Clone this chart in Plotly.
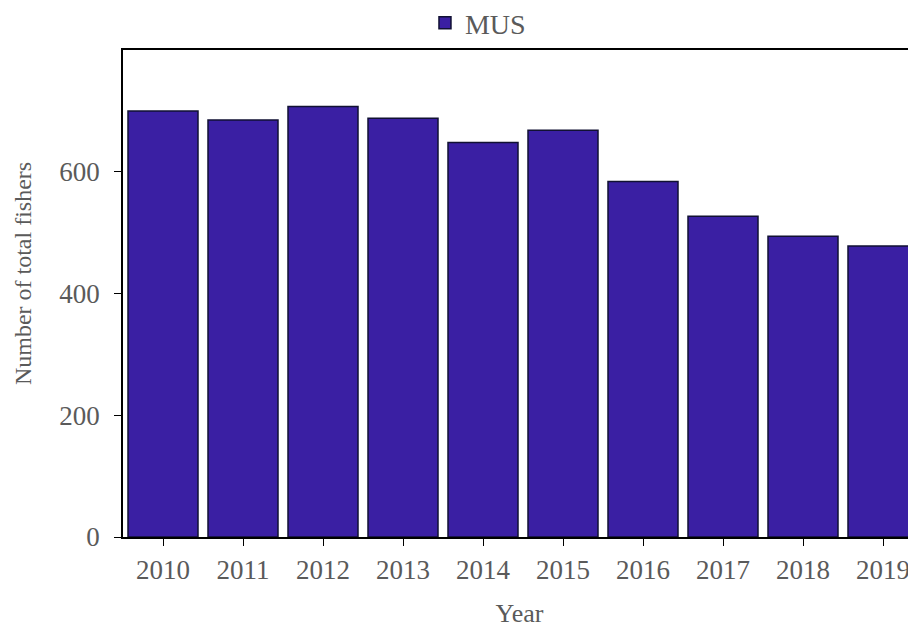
import plotly.graph_objects as go

years = ["2010", "2011", "2012", "2013", "2014", "2015", "2016", "2017", "2018", "2019"]
fishers = [700, 685, 707, 688, 648, 668, 584, 527, 494, 478]
series_name = "MUS"
y_ticks = [0, 200, 400, 600]
y_title = "Number of total fishers"
x_title = "Year"

fig = go.Figure()
fig.add_trace(go.Bar(
    x=years, y=fishers, name=series_name,
    marker=dict(color="#3a1fa3", line=dict(color="#111133", width=1.5)),
    width=0.875, showlegend=True,
))

font_family = "Liberation Serif, Times New Roman, serif"
text_color = "#5a5a5a"
fig.update_layout(
    width=908, height=622,
    margin=dict(l=115, r=0, t=42, b=93, autoexpand=False),
    plot_bgcolor="white", paper_bgcolor="white",
    font=dict(family=font_family, size=24, color=text_color),
    showlegend=True,
    legend=dict(orientation="h", x=0.3808, xanchor="left", y=1.0554, yanchor="middle",
                font=dict(size=28, color=text_color), itemwidth=30,
                bgcolor="rgba(0,0,0,0)", borderwidth=0),
    annotations=[dict(text=y_title, textangle=-90, xref="paper", yref="paper",
                      x=-0.126, y=0.54, xanchor="center", yanchor="middle",
                      showarrow=False, font=dict(size=24, color=text_color))],
)
fig.update_xaxes(
    type="category", range=[-0.5, 9.4125],
    showline=True, linecolor="black", linewidth=1.5, mirror=True,
    ticks="outside", ticklen=7, tickcolor="black",
    ticklabelstandoff=1,
    title=dict(text=x_title, standoff=20, font=dict(size=26, color=text_color)),
    tickfont=dict(size=27, color=text_color),
    showgrid=False,
)
fig.update_yaxes(
    range=[0, 800], tickvals=y_ticks,
    showline=True, linecolor="black", linewidth=1.5, mirror=False,
    ticks="outside", ticklen=7, tickcolor="black",
    ticklabelstandoff=9,
    tickfont=dict(size=27, color=text_color),
    showgrid=False, zeroline=False,
)
fig.write_html("out.html")
